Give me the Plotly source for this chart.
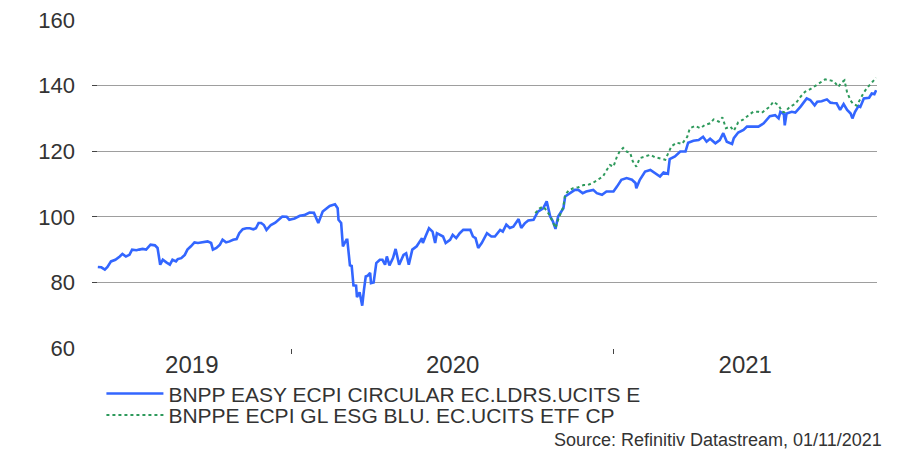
import plotly.graph_objects as go

series_names = ["BNPP EASY ECPI CIRCULAR EC.LDRS.UCITS E", "BNPPE ECPI GL ESG BLU. EC.UCITS ETF CP"]

blue_dates = [
    "2019-05-25", "2019-05-29", "2019-06-02", "2019-06-05", "2019-06-09", "2019-06-14", "2019-06-19", "2019-06-22",
    "2019-06-26", "2019-06-30", "2019-07-03", "2019-07-08", "2019-07-11", "2019-07-15", "2019-07-19", "2019-07-24",
    "2019-07-29", "2019-08-01", "2019-08-04", "2019-08-07", "2019-08-11", "2019-08-15", "2019-08-18", "2019-08-22",
    "2019-08-24", "2019-08-28", "2019-09-01", "2019-09-04", "2019-09-08", "2019-09-12", "2019-09-16", "2019-09-20",
    "2019-09-24", "2019-09-27", "2019-10-01", "2019-10-03", "2019-10-07", "2019-10-11", "2019-10-14", "2019-10-18",
    "2019-10-22", "2019-10-26", "2019-10-30", "2019-11-02", "2019-11-06", "2019-11-10", "2019-11-14", "2019-11-18",
    "2019-11-21", "2019-11-24", "2019-11-27", "2019-11-30", "2019-12-03", "2019-12-08", "2019-12-13", "2019-12-18",
    "2019-12-21", "2019-12-26", "2019-12-29", "2020-01-04", "2020-01-10", "2020-01-15", "2020-01-21", "2020-01-26",
    "2020-01-29", "2020-01-31", "2020-02-05", "2020-02-08", "2020-02-13", "2020-02-19", "2020-02-22", "2020-02-23",
    "2020-02-26", "2020-02-28", "2020-03-03", "2020-03-04", "2020-03-07", "2020-03-09", "2020-03-11", "2020-03-14",
    "2020-03-15", "2020-03-18", "2020-03-21", "2020-03-23", "2020-03-25", "2020-03-27", "2020-03-30", "2020-03-31",
    "2020-04-03", "2020-04-06", "2020-04-10", "2020-04-13", "2020-04-16", "2020-04-18", "2020-04-21", "2020-04-25",
    "2020-04-28", "2020-05-02", "2020-05-07", "2020-05-10", "2020-05-13", "2020-05-17", "2020-05-22", "2020-05-28",
    "2020-05-29", "2020-06-01", "2020-06-05", "2020-06-09", "2020-06-12", "2020-06-14", "2020-06-17", "2020-06-21",
    "2020-06-24", "2020-06-29", "2020-07-02", "2020-07-06", "2020-07-10", "2020-07-14", "2020-07-22", "2020-07-25",
    "2020-07-28", "2020-07-31", "2020-08-04", "2020-08-10", "2020-08-15", "2020-08-19", "2020-08-25", "2020-08-28",
    "2020-09-01", "2020-09-05", "2020-09-09", "2020-09-15", "2020-09-18", "2020-09-22", "2020-09-26", "2020-10-02",
    "2020-10-07", "2020-10-13", "2020-10-17", "2020-10-21", "2020-10-24", "2020-10-27", "2020-10-30", "2020-11-05",
    "2020-11-07", "2020-11-12", "2020-11-18", "2020-11-22", "2020-11-27", "2020-12-01", "2020-12-09", "2020-12-13",
    "2020-12-19", "2020-12-24", "2021-01-01", "2021-01-05", "2021-01-10", "2021-01-16", "2021-01-22", "2021-01-26",
    "2021-01-27", "2021-01-31", "2021-02-06", "2021-02-12", "2021-02-17", "2021-02-23", "2021-02-27", "2021-03-04",
    "2021-03-06", "2021-03-12", "2021-03-18", "2021-03-24", "2021-03-27", "2021-04-02", "2021-04-08", "2021-04-13",
    "2021-04-17", "2021-04-21", "2021-04-27", "2021-05-02", "2021-05-06", "2021-05-10", "2021-05-16", "2021-05-18",
    "2021-05-23", "2021-05-29", "2021-06-02", "2021-06-08", "2021-06-15", "2021-06-21", "2021-06-28", "2021-07-04",
    "2021-07-08", "2021-07-10", "2021-07-14", "2021-07-15", "2021-07-17", "2021-07-23", "2021-07-27", "2021-08-02",
    "2021-08-09", "2021-08-13", "2021-08-18", "2021-08-21", "2021-08-26", "2021-09-01", "2021-09-05", "2021-09-08",
    "2021-09-12", "2021-09-16", "2021-09-20", "2021-09-24", "2021-09-28", "2021-09-30", "2021-10-03", "2021-10-07",
    "2021-10-09", "2021-10-13", "2021-10-19", "2021-10-22", "2021-10-25", "2021-10-27",
]
blue_values = [
    84.7, 84.6, 83.9, 84.7, 86.4, 86.9, 87.9, 88.7,
    87.9, 88.4, 90.0, 89.8, 90.0, 90.2, 90.0, 91.5,
    91.3, 90.5, 85.4, 86.9, 86.1, 85.4, 86.9, 86.4,
    87.1, 87.4, 88.4, 90.0, 91.0, 92.2, 92.0, 92.2,
    92.2, 92.5, 92.0, 90.0, 90.5, 91.5, 93.0, 92.2,
    92.5, 93.0, 93.2, 95.0, 96.2, 96.5, 96.5, 96.2,
    96.5, 98.1, 98.1, 97.5, 96.0, 97.5, 98.2, 99.5,
    100.1, 100.0, 99.1, 99.5, 100.3, 100.5, 101.3, 101.2,
    99.1, 98.1, 101.6, 102.2, 103.3, 103.8, 102.6, 99.1,
    98.1, 91.0, 93.0, 93.0, 85.2, 85.0, 79.1, 79.0,
    75.5, 77.0, 72.9, 77.8, 81.8, 82.0, 82.9, 79.8,
    80.0, 85.9, 86.9, 86.9, 85.4, 87.9, 85.2, 87.4,
    90.2, 85.4, 88.4, 88.9, 85.4, 90.0, 91.0, 93.5,
    92.0, 94.0, 96.5, 95.5, 92.0, 95.0, 94.5, 94.0,
    92.0, 93.0, 94.5, 93.5, 95.0, 96.0, 96.0, 94.0,
    93.5, 90.5, 92.0, 95.0, 94.0, 94.0, 96.0, 95.5,
    97.6, 96.6, 97.0, 99.3, 96.6, 98.0, 98.9, 99.1,
    101.6, 102.6, 104.7, 100.1, 98.6, 96.3, 100.1, 102.6,
    106.2, 107.2, 108.2, 108.2, 107.2, 107.7, 108.2, 107.2,
    106.7, 107.7, 107.7, 109.2, 111.3, 111.8, 111.3, 110.3,
    108.7, 111.3, 113.8, 114.3, 113.3, 112.3, 113.5, 113.1,
    117.6, 118.4, 119.9, 119.9, 122.6, 123.2, 123.4, 124.4,
    122.9, 123.8, 122.4, 123.4, 125.5, 122.9, 122.2, 124.0,
    125.7, 126.5, 127.5, 127.5, 127.5, 128.5, 130.7, 131.0,
    130.0, 132.0, 131.3, 127.9, 131.5, 132.0, 131.8, 133.6,
    136.1, 135.6, 134.0, 135.1, 135.2, 135.8, 134.8, 134.7,
    134.6, 132.6, 134.4, 132.6, 131.5, 130.0, 132.0, 133.8,
    133.5, 136.1, 136.3, 137.6, 137.4, 138.6,
]

green_dates = [
    "2020-10-04", "2020-10-09", "2020-10-13", "2020-10-17", "2020-10-21", "2020-10-24", "2020-10-27", "2020-10-30",
    "2020-11-05", "2020-11-07", "2020-11-11", "2020-11-16", "2020-11-22", "2020-11-28", "2020-12-03", "2020-12-09",
    "2020-12-15", "2020-12-20", "2020-12-24", "2020-12-28", "2021-01-01", "2021-01-05", "2021-01-08", "2021-01-12",
    "2021-01-16", "2021-01-20", "2021-01-23", "2021-01-27", "2021-01-31", "2021-02-06", "2021-02-12", "2021-02-17",
    "2021-02-23", "2021-03-01", "2021-03-04", "2021-03-08", "2021-03-14", "2021-03-20", "2021-03-26", "2021-03-29",
    "2021-04-04", "2021-04-10", "2021-04-15", "2021-04-21", "2021-04-25", "2021-05-01", "2021-05-05", "2021-05-09",
    "2021-05-14", "2021-05-18", "2021-05-23", "2021-05-29", "2021-06-04", "2021-06-09", "2021-06-15", "2021-06-19",
    "2021-06-23", "2021-06-28", "2021-07-02", "2021-07-08", "2021-07-12", "2021-07-15", "2021-07-21", "2021-07-27",
    "2021-08-02", "2021-08-07", "2021-08-13", "2021-08-19", "2021-08-24", "2021-08-30", "2021-09-05", "2021-09-09",
    "2021-09-14", "2021-09-17", "2021-09-21", "2021-09-24", "2021-09-28", "2021-10-01", "2021-10-05", "2021-10-09",
    "2021-10-13", "2021-10-17", "2021-10-22", "2021-10-27",
]
green_values = [
    101.1, 102.6, 103.1, 101.9, 100.1, 98.1, 96.6, 99.1,
    103.1, 106.7, 108.0, 108.7, 109.0, 109.7, 109.7, 110.4,
    111.4, 112.3, 114.1, 115.8, 115.3, 118.4, 119.9, 121.0,
    119.9, 119.5, 116.9, 115.3, 117.9, 118.4, 118.9, 118.2,
    117.8, 117.4, 119.2, 121.5, 122.6, 122.2, 124.4, 127.0,
    127.7, 127.0, 128.0, 128.5, 129.7, 129.0, 130.3, 127.0,
    127.5, 126.2, 128.8, 129.7, 131.0, 132.0, 132.0, 131.7,
    132.6, 133.6, 135.1, 134.0, 132.0, 131.9, 133.6, 134.4,
    136.6, 138.1, 138.9, 139.9, 140.9, 141.9, 141.6, 141.3,
    139.6, 140.8, 141.6, 137.9, 135.4, 134.4, 133.9, 135.9,
    137.9, 139.4, 140.9, 142.4,
]

x_range = ["2019-05-18 09:00", "2021-10-28"]
year_label_dates = ["2019-09-09", "2020-07-02", "2021-05-31"]
year_labels = ["2019", "2020", "2021"]
year_boundaries = ["2020-01-01", "2021-01-01"]
y_ticks = [60, 80, 100, 120, 140, 160]
source_text = "Source: Refinitiv Datastream, 01/11/2021"

FONT = "Liberation Sans, Arial, sans-serif"
TEXT = "#333333"

fig = go.Figure()
fig.add_trace(go.Scatter(
    x=blue_dates, y=blue_values, mode="lines", name=series_names[0],
    line=dict(color="#3366FF", width=2.6), legend="legend",
))
fig.add_trace(go.Scatter(
    x=green_dates, y=green_values, mode="lines", name=series_names[1],
    line=dict(color="#2E9A5C", width=2, dash="dot"), legend="legend2",
))

legend_common = dict(
    orientation="v", xanchor="left", yanchor="middle",
    font=dict(size=21, color=TEXT, family=FONT),
    itemwidth=57, bgcolor="rgba(0,0,0,0)", borderwidth=0,
)

fig.update_layout(
    template="none",
    width=909, height=449,
    margin=dict(l=92, r=32, t=20, b=101, autoexpand=False),
    paper_bgcolor="white", plot_bgcolor="white",
    font=dict(family=FONT, color=TEXT),
    showlegend=True,
    legend=dict(x=0.012, y=-0.14, **legend_common),
    legend2=dict(x=0.012, y=-0.205, **legend_common),
    xaxis=dict(
        type="date", range=x_range, automargin=False,
        tickmode="array", tickvals=year_label_dates, ticktext=year_labels,
        ticks="", showgrid=False, zeroline=False, showline=False,
        tickfont=dict(size=24, color=TEXT),
        minor=dict(tickmode="array", tickvals=year_boundaries, ticks="outside",
                   ticklen=5, tickwidth=1, tickcolor="#444444", showgrid=False),
    ),
    yaxis=dict(
        range=[60, 160], tickmode="array", tickvals=y_ticks, automargin=False,
        ticks="inside", ticklen=5, tickcolor="#444444", tickwidth=1,
        showgrid=True, gridcolor="#9E9E9E", gridwidth=1,
        zeroline=False, showline=False,
        tickfont=dict(size=22, color=TEXT),
        ticklabelstandoff=16,
    ),
    annotations=[dict(
        text=source_text, xref="paper", yref="paper",
        x=1.0093, y=-0.279, xanchor="right", yanchor="middle",
        showarrow=False, font=dict(size=18, color=TEXT, family=FONT),
    )],
)

fig.write_html(
    "out.html",
    config={"displayModeBar": False},
    post_script="document.body.style.margin='0';document.documentElement.style.overflow='hidden';",
)
